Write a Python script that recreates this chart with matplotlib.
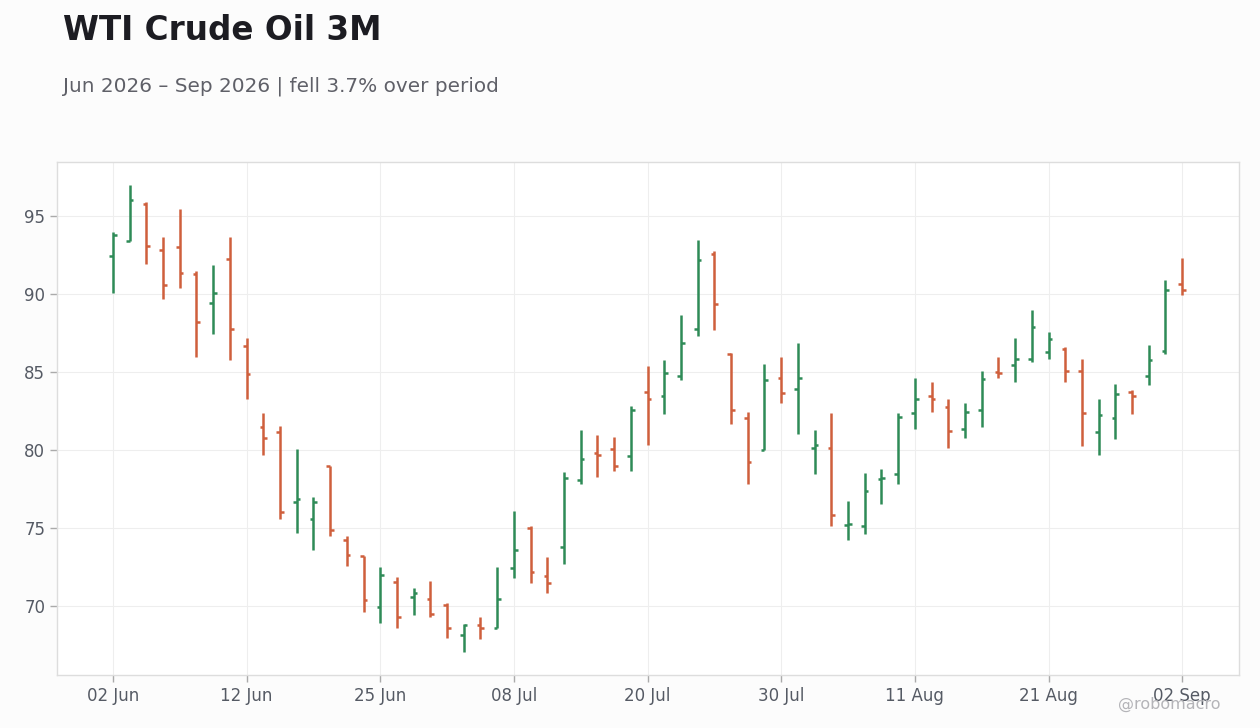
import matplotlib
matplotlib.use("Agg")
import matplotlib.pyplot as plt
import pandas as pd

# trading days (US holidays Jun 19 and Jul 3 skipped)
holidays = ["2026-06-19", "2026-07-03"]
days = [d for d in pd.bdate_range("2026-06-02", "2026-09-02") if d.strftime("%Y-%m-%d") not in holidays]

opens = [92.45, 93.45, 95.8, 92.85, 93.05, 91.3, 89.45, 92.25, 86.65, 81.45,
         81.15, 76.65, 75.55, 78.95, 74.2, 73.2, 69.95, 71.5, 70.55, 70.45,
         70.05, 68.1, 68.75, 68.6, 72.4, 75.0, 71.9, 73.75, 78.05, 79.8,
         80.05, 79.6, 83.75, 83.5, 84.75, 87.75, 92.6, 86.15, 82.05, 80.0,
         84.65, 83.95, 80.1, 80.1, 75.2, 75.15, 78.15, 78.45, 82.35, 83.5,
         82.75, 81.35, 82.55, 85.0, 85.45, 85.85, 86.3, 86.5, 85.05, 81.15,
         82.05, 83.7, 84.75, 86.35, 90.65]
highs = [94.0, 97.0, 95.9, 93.65, 95.45, 91.5, 91.85, 93.65, 87.2, 82.4,
         81.55, 80.05, 77.0, 79.0, 74.45, 73.2, 72.5, 71.85, 71.15, 71.6,
         70.2, 68.85, 69.25, 72.5, 76.1, 75.15, 73.15, 78.6, 81.3, 80.95,
         80.85, 82.8, 85.4, 85.8, 88.65, 93.5, 92.8, 86.2, 82.45, 85.55,
         85.95, 86.9, 81.3, 82.35, 76.7, 78.55, 78.8, 82.4, 84.6, 84.35,
         83.3, 83.0, 85.05, 85.95, 87.2, 89.0, 87.55, 86.6, 85.85, 83.3,
         84.25, 83.85, 86.75, 90.95, 92.3]
lows = [90.1, 93.4, 91.95, 89.7, 90.4, 85.95, 87.45, 85.75, 83.25, 79.7,
        75.55, 74.65, 73.6, 74.45, 72.55, 69.6, 68.9, 68.6, 69.4, 69.25,
        67.95, 67.05, 67.85, 68.55, 71.75, 71.45, 70.8, 72.65, 77.85, 78.25,
        78.65, 78.65, 80.3, 82.3, 84.5, 87.35, 87.7, 81.65, 77.8, 80.0,
        83.0, 81.05, 78.45, 75.15, 74.25, 74.6, 76.55, 77.8, 81.35, 82.45,
        80.1, 80.75, 81.5, 84.6, 84.35, 85.65, 85.85, 84.4, 80.25, 79.65,
        80.7, 82.3, 84.15, 86.15, 89.95]
closes = [93.8, 96.05, 93.1, 90.6, 91.35, 88.2, 90.1, 87.75, 84.9, 80.75,
          76.05, 76.85, 76.65, 74.85, 73.25, 70.35, 71.95, 69.25, 70.8, 69.5,
          68.6, 68.75, 68.6, 70.45, 73.55, 72.15, 71.45, 78.2, 79.4, 79.65,
          78.95, 82.55, 83.25, 84.95, 86.85, 92.2, 89.35, 82.6, 79.25, 84.5,
          83.65, 84.65, 80.35, 75.8, 75.25, 77.35, 78.2, 82.15, 83.25, 83.3,
          81.25, 82.45, 84.55, 84.95, 85.85, 87.9, 87.1, 85.05, 82.35, 82.25,
          83.6, 83.45, 85.75, 90.25, 90.25]

UP = "#2e8b57"
DOWN = "#cf5f3c"

fig = plt.figure(figsize=(12.6, 7.28), dpi=100, facecolor="#fcfcfc")
ax = fig.add_axes([0.0452, 0.0728, 0.9381, 0.7047])
ax.set_facecolor("white")

x = list(range(len(days)))
colors = [UP if c >= o else DOWN for o, c in zip(opens, closes)]
w = 0.22
ax.vlines(x, lows, highs, colors=colors, linewidth=1.8)
ax.hlines(opens, [i - w for i in x], x, colors=colors, linewidth=1.8)
ax.hlines(closes, x, [i + w for i in x], colors=colors, linewidth=1.8)

ax.set_xlim(-3.35, len(days) - 1 + 3.4)
rng = max(highs) - min(lows)
ax.set_ylim(min(lows) - 0.05 * rng, max(highs) + 0.05 * rng)

tick_idx = x[::8]
ax.set_xticks(tick_idx)
ax.set_xticklabels([days[i].strftime("%d %b") for i in tick_idx])
ax.set_yticks([70, 75, 80, 85, 90, 95])

ax.grid(True, color="#eeeeee", linewidth=0.8)
ax.set_axisbelow(True)
for s in ax.spines.values():
    s.set_color("#dddddd")
    s.set_linewidth(1)
ax.tick_params(colors="#aaaaaa", labelcolor="#555a64", labelsize=12, length=5, width=1)

fig.text(0.05, 0.958, "WTI Crude Oil 3M", fontsize=23.5, fontweight="bold",
         color="#1c1c22", va="center", ha="left")
fig.text(0.05, 0.882, "Jun 2026 \u2013 Sep 2026 | fell 3.7% over period", fontsize=14.4,
         color="#5f6068", va="center", ha="left")
fig.text(0.969, 0.032, "@robomacro", fontsize=11.5, color="#b4b4b8", ha="right", va="center")

fig.savefig("out.png", dpi=100, facecolor=fig.get_facecolor())
